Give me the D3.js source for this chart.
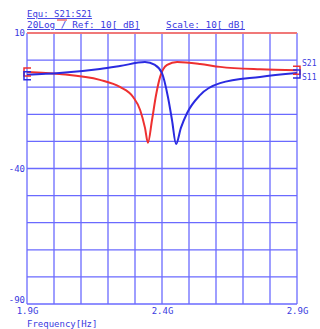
<!DOCTYPE html>
<html>
<head>
<meta charset="utf-8">
<script src="https://cdn.jsdelivr.net/npm/d3@7"></script>
<style>
  body { margin: 0; background: #fff; }
  text { font-family: "DejaVu Sans Mono", "Liberation Mono", monospace; fill: #3a3ae0; }
</style>
</head>
<body>
<div id="chart"></div>
<script>
// frequency in GHz, level in dB
const freqS11 = [1.9, 2.02, 2.17, 2.244, 2.293, 2.319, 2.337, 2.348, 2.363, 2.378, 2.393, 2.419, 2.456, 2.541, 2.615, 2.763, 2.9];
const dbS11   = [-4.4, -5.1, -7.3, -9.9, -13.6, -18.4, -25, -30.5, -22.1, -12.9, -6.2, -1.8, -0.7, -1.4, -2.5, -3.4, -3.7];
const freqS21 = [1.9, 2.02, 2.17, 2.244, 2.337, 2.374, 2.4, 2.422, 2.437, 2.452, 2.47, 2.493, 2.541, 2.615, 2.763, 2.9];
const dbS21   = [-5.4, -4.8, -3.3, -2.2, -0.7, -1.8, -4.8, -13.6, -22.1, -31, -25, -19.5, -12.9, -8.5, -6.2, -4.8];
const xTicks = [1.9, 2.4, 2.9];
const xTickLabels = ["1.9G", "2.4G", "2.9G"];
const yTicks = [10, -40, -90];
const yTickLabels = ["10", "-40", "-90"];
const traceNames = ["S21", "S11"];

const margin = { top: 33, right: 23, bottom: 25, left: 27 };
const width = 320 - margin.left - margin.right;
const height = 329 - margin.top - margin.bottom;

const svg = d3.select('#chart')
  .append('svg')
  .attr('width', 320)
  .attr('height', 329);

const g = svg.append('g')
  .attr('transform', `translate(${margin.left},${margin.top})`);

const x = d3.scaleLinear().domain([1.9, 2.9]).range([0, width]);
const y = d3.scaleLinear().domain([-90, 10]).range([height, 0]);

// grid
g.append('g')
  .selectAll('line')
  .data(d3.range(1.9, 2.95, 0.1))
  .enter().append('line')
  .attr('x1', d => x(d)).attr('x2', d => x(d))
  .attr('y1', 0).attr('y2', height)
  .style('stroke', '#6a6aff')
  .style('stroke-width', 1.3);

g.append('g')
  .selectAll('line')
  .data(d3.range(-90, 11, 10))
  .enter().append('line')
  .attr('x1', 0).attr('x2', width)
  .attr('y1', d => y(d)).attr('y2', d => y(d))
  .style('stroke', '#6a6aff')
  .style('stroke-width', 1.3);

// red reference line at top
g.append('line')
  .attr('x1', 0).attr('x2', width)
  .attr('y1', y(10)).attr('y2', y(10))
  .style('stroke', '#f07878')
  .style('stroke-width', 2);

// axes
const xAxis = g.append('g')
  .attr('transform', `translate(0,${height})`)
  .call(d3.axisBottom(x).tickValues(xTicks).tickSize(0).tickPadding(4)
    .tickFormat((d, i) => xTickLabels[i]));
xAxis.select('.domain').remove();
xAxis.selectAll('text').style('font-size', '9px').attr('dy', '0.7em');

const yAxis = g.append('g')
  .call(d3.axisLeft(y).tickValues(yTicks).tickSize(0).tickPadding(2)
    .tickFormat((d, i) => yTickLabels[i]));
yAxis.select('.domain').remove();
yAxis.selectAll('text').style('font-size', '9px')
  .attr('dy', d => d === -90 ? '-0.2em' : '0.32em');

// traces
const line = d3.line()
  .x(d => x(d[0]))
  .y(d => y(d[1]))
  .curve(d3.curveMonotoneX);

const s11 = freqS11.map((f, i) => [f, dbS11[i]]);
const s21 = freqS21.map((f, i) => [f, dbS21[i]]);

g.append('path')
  .datum(s11)
  .attr('d', line)
  .style('fill', 'none')
  .style('stroke', '#ee3030')
  .style('stroke-width', 2);

g.append('path')
  .datum(s21)
  .attr('d', line)
  .style('fill', 'none')
  .style('stroke', '#2a2ae0')
  .style('stroke-width', 2);

// end markers
function marker(px, py, dir, color) {
  g.append('path')
    .attr('d', `M${px + dir * 4},${py - 4} L${px - dir * 3},${py - 4} L${px - dir * 3},${py + 4} L${px + dir * 4},${py + 4}`)
    .style('fill', 'none')
    .style('stroke', color)
    .style('stroke-width', 1.5);
}
marker(x(freqS11[0]), y(dbS11[0]), 1, '#ee3030');
marker(x(freqS21[0]), y(dbS21[0]) + 1, 1, '#2a2ae0');
marker(x(freqS11[freqS11.length - 1]), y(dbS11[dbS11.length - 1]), -1, '#ee3030');
marker(x(freqS21[freqS21.length - 1]), y(dbS21[dbS21.length - 1]) + 1, -1, '#2a2ae0');

// trace names on the right
g.selectAll('.tname')
  .data(traceNames)
  .enter().append('text')
  .attr('x', width + 5)
  .attr('y', (d, i) => y(dbS11[dbS11.length - 1]) - 4 + i * 14)
  .style('font-size', '8px')
  .text(d => d);

// header
svg.append('text').attr('x', 27).attr('y', 17)
  .style('font-size', '9px').style('text-decoration', 'underline')
  .text('Equ: S21:S21');
svg.append('line')
  .attr('x1', 57).attr('x2', 67).attr('y1', 20).attr('y2', 20)
  .style('stroke', '#f07070').style('stroke-width', 1.5);
svg.append('text').attr('x', 27).attr('y', 28)
  .style('font-size', '9.4px').style('text-decoration', 'underline')
  .text('20Log / Ref: 10[ dB]');
svg.append('text').attr('x', 166).attr('y', 28)
  .style('font-size', '9.4px').style('text-decoration', 'underline')
  .text('Scale: 10[ dB]');

// x title
svg.append('text').attr('x', 27).attr('y', 327)
  .style('font-size', '9px')
  .text('Frequency[Hz]');
</script>
</body>
</html>
